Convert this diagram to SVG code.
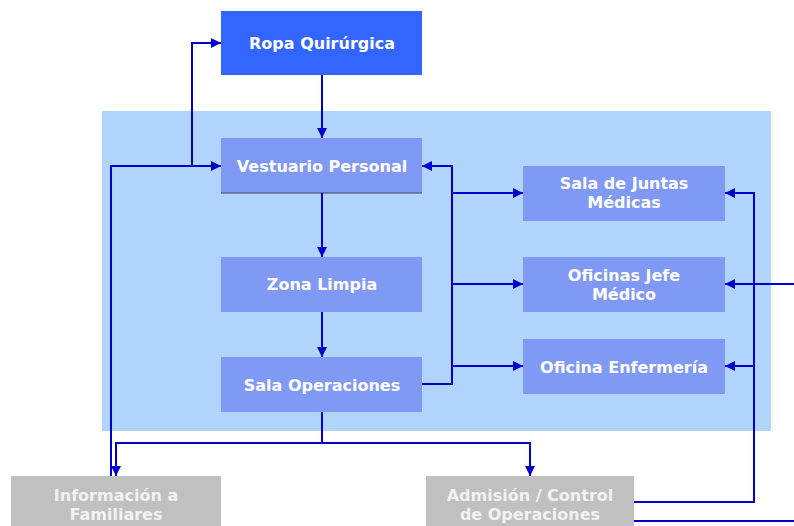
<svg xmlns="http://www.w3.org/2000/svg" width="794" height="526" viewBox="0 0 794 526">
<defs>
<style>
.box{fill:#7F99F5}
.top{fill:#3366FF}
.gray{fill:#C0C0C0}
.t{font-family:"DejaVu Sans",Verdana,sans-serif;font-weight:bold;font-size:16px;fill:#FFFFFF;text-anchor:middle;dominant-baseline:central}
.tg{fill:#F2F2F2}
.c{fill:none;stroke:#0000CC;stroke-width:2}
</style>
<marker id="ah" markerUnits="userSpaceOnUse" markerWidth="10" markerHeight="10" viewBox="0 0 10 10" refX="10" refY="5" orient="auto">
<path d="M0,0 L10,5 L0,10 z" fill="#0000CC"/>
</marker>
</defs>
<rect width="794" height="526" fill="#FFFFFF"/>
<rect id="zona-quirurgica" x="102" y="111" width="669" height="320" fill="#B0D4FC"/>

<g id="ropa"><rect class="top" x="221" y="11" width="201" height="64"/><text class="t" x="322" y="43">Ropa Quirúrgica</text></g>
<g id="vestuario"><rect class="box" x="221" y="138" width="201" height="55"/><line x1="221" y1="193" x2="422" y2="193" stroke="#404060" stroke-width="1"/><text class="t" x="322" y="166">Vestuario Personal</text></g>
<g id="zona-limpia"><rect class="box" x="221" y="257" width="201" height="55"/><text class="t" x="322" y="284">Zona Limpia</text></g>
<g id="sala-operaciones"><rect class="box" x="221" y="357" width="201" height="55"/><text class="t" x="322" y="385">Sala Operaciones</text></g>
<g id="sala-juntas"><rect class="box" x="523" y="166" width="202" height="55"/><text class="t" x="624" y="183">Sala de Juntas</text><text class="t" x="624" y="202">Médicas</text></g>
<g id="oficinas-jefe"><rect class="box" x="523" y="257" width="202" height="55"/><text class="t" x="624" y="275">Oficinas Jefe</text><text class="t" x="624" y="294">Médico</text></g>
<g id="oficina-enfermeria"><rect class="box" x="523" y="339" width="202" height="55"/><text class="t" x="624" y="367">Oficina Enfermería</text></g>
<g id="informacion"><rect class="gray" x="11" y="476" width="210" height="60"/><text class="t tg" x="116" y="495">Información a</text><text class="t tg" x="116" y="514">Familiares</text></g>
<g id="admision"><rect class="gray" x="426" y="476" width="208" height="60"/><text class="t tg" x="530" y="495">Admisión / Control</text><text class="t tg" x="530" y="514">de Operaciones</text></g>

<g id="connectors">
<path class="c" d="M322,75 V138" marker-end="url(#ah)"/>
<path class="c" d="M322,193 V257" marker-end="url(#ah)"/>
<path class="c" d="M322,312 V357" marker-end="url(#ah)"/>
<path class="c" d="M322,412 V443 H116 V476" marker-end="url(#ah)"/>
<path class="c" d="M322,443 H530 V476" marker-end="url(#ah)"/>
<path class="c" d="M111,476 V166 H221" marker-end="url(#ah)"/>
<path class="c" d="M192,166 V43 H221" marker-end="url(#ah)"/>
<path class="c" d="M422,384 H452 V166 H422" marker-end="url(#ah)"/>
<path class="c" d="M452,193 H523" marker-end="url(#ah)"/>
<path class="c" d="M452,284 H523" marker-end="url(#ah)"/>
<path class="c" d="M452,366 H523" marker-end="url(#ah)"/>
<path class="c" d="M634,502 H754 V193 H725" marker-end="url(#ah)"/>
<path class="c" d="M794,284 H725" marker-end="url(#ah)"/>
<path class="c" d="M754,366 H725" marker-end="url(#ah)"/>
<path class="c" d="M634,521 H794"/>
</g>
</svg>
